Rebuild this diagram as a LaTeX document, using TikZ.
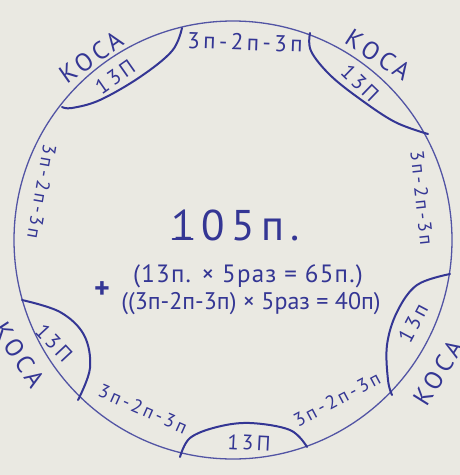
\documentclass[tikz,border=0pt]{standalone}
\usepackage{fontspec}
\setmainfont{PT Sans}
\newfontfamily\handfont[LetterSpace=15]{PT Sans}
\newfontfamily\sumfont[LetterSpace=5]{PT Sans}
\usetikzlibrary{calc}
\definecolor{ink}{RGB}{52,54,148}
\definecolor{paper}{RGB}{234,233,226}

\tikzset{
  rim/.style={line width=1.3pt, draw=ink!85},
  lens/.style={line width=2pt, draw=ink, line cap=round},
  note/.style={text=ink, font=\handfont\fontsize{23}{25}\selectfont, inner sep=0pt},
  sidenote/.style={note, font=\handfont\fontsize{19}{21}\selectfont},
  braid/.style={note, font=\handfont\fontsize{25}{27}\selectfont},
  count/.style={note, font=\handfont\fontsize{21}{23}\selectfont},
  sum/.style={text=ink, font=\sumfont\fontsize{25}{27}\selectfont, inner sep=0pt},
}

\begin{document}
\begin{tikzpicture}[x=1pt,y=-1pt]
  \fill[paper] (0,0) rectangle (460,475);
  \useasboundingbox (0,0) rectangle (460,475);

  %%%%% RING %%%%%
  \coordinate (c) at (233,240);
  \draw[rim] (c) circle[radius=219pt];

  % lens ends on the ring
  \coordinate (tlA) at (62,107);  \coordinate (tlB) at (182,28);
  \coordinate (trA) at (310,33);  \coordinate (trB) at (428,134);
  \coordinate (rA) at (450,274);  \coordinate (rB) at (392,395);
  \coordinate (bA) at (307,447);  \coordinate (bB) at (180,457);
  \coordinate (lA) at (78,400);   \coordinate (lB) at (22,300);

  %%%%% LENSES %%%%%
  \draw[lens] plot[smooth, tension=0.6] coordinates {(tlA) (72,108) (100,100) (140,77) (172,51) (tlB)};
  \draw[lens] plot[smooth, tension=0.6] coordinates {(trA) (311,51) (330,75) (360,99) (395,122) (trB)};
  \draw[lens] plot[smooth, tension=0.6] coordinates {(rA) (417,285) (397,312) (387,345) (388,380) (rB)};
  \draw[lens] plot[smooth, tension=0.6] coordinates {(bA) (290,430) (250,423) (217,427) (190,438) (bB)};
  \draw[lens] plot[smooth, tension=0.6] coordinates {(lA) (90,368) (84,335) (60,312) (lB)};

  %%%%% LABELS %%%%%
  \node[note, rotate=-2] (gapT) at (245,42) {3п-2п-3п};
  \node[sidenote, rotate=-84] (gapR) at (422,198) {3п-2п-3п};
  \node[sidenote, rotate=28] (gapBR) at (337,399) {3п-2п-3п};
  \node[sidenote, rotate=-24] (gapBL) at (143,409) {3п-2п-3п};
  \node[sidenote, rotate=-100] (gapL) at (42,192) {3п-2п-3п};

  \node[braid, rotate=35] (kosaTL) at (91,57) {КОСА};
  \node[braid, rotate=-33] (kosaTR) at (378,55) {КОСА};
  \node[braid, rotate=58] (kosaR) at (438,373) {КОСА};
  \node[braid, rotate=-57] (kosaL) at (19,355) {КОСА};

  \node[count, rotate=35] (cntTL) at (115,77) {13П};
  \node[count, rotate=-44] (cntTR) at (360,83) {13П};
  \node[count, rotate=62] (cntR) at (413,323) {13п};
  \node[count, rotate=-3] (cntB) at (249,443) {13П};
  \node[count, rotate=-47] (cntL) at (54,343) {13П};

  %%%%% SUM %%%%%
  \node[note, font=\handfont\fontsize{43}{45}\selectfont] (total) at (236,225) {105п.};
  \draw[lens] ($(total.south west)+(1,-2)$) -- ++(20,0);
  \node[sum, font=\bfseries\fontsize{30}{30}\selectfont] (plus) at (102,290) {+};
  \node[sum] (row1) at (248,276) {(13п. × 5раз = 65п.)};
  \node[sum, font=\fontsize{24}{26}\selectfont] (row2) at (251,304) {((3п-2п-3п) × 5раз = 40п)};
\end{tikzpicture}
\end{document}
